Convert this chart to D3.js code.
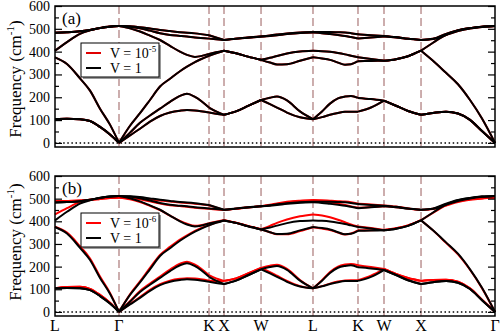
<!DOCTYPE html>
<html lang="en">
<head>
<meta charset="UTF-8">
<title>Phonon dispersion</title>
<script src="https://d3js.org/d3.v7.min.js"></script>
<style type="text/css">
    body { margin: 0; background: #fff; }
</style>
</head>
<body>
<div id="svgDiv"></div>
<script type="text/javascript">

    // high symmetry points along the path (units of 2pi/a)
    var kLabels = ["L", "\u0393", "K", "X", "W", "L", "K", "W", "X", "\u0393"];
    var kTicks = [0, 0.866, 2.084, 2.287, 2.788, 3.491, 4.1, 4.452, 4.953, 5.954];

    // k samples the bands were read at
    var kGrid = [0, 0.162, 0.338, 0.474, 0.609, 0.744, 0.866,
        1.015, 1.150, 1.285, 1.421, 1.556, 1.691, 1.786, 1.894, 2.084,
        2.179, 2.287,
        2.449, 2.612, 2.788,
        2.909, 3.004, 3.139, 3.315, 3.491,
        3.613, 3.721, 3.829, 3.924, 4.005, 4.1,
        4.276, 4.452,
        4.614, 4.777, 4.953,
        5.115, 5.291, 5.453, 5.616, 5.778, 5.954];

    // V = 1 (black, both panels)
    var v1TA1 = [105,106,104,96,70,37,0, 33,62,93,118,133,141,144,142,133, 128,123, 138,162,188, 170,155,133,112,104, 113,123,131,136,137,137, 155,185, 163,140,123, 131,137,129,101,52,0];
    var v1TA2 = [105,106,104,96,70,37,0, 45,88,120,150,180,206,215,202,155, 138,123, 138,162,188, 198,203,186,138,104, 138,172,195,203,206,197, 192,185, 163,140,123, 131,137,129,101,52,0];
    var v1LA  = [375,346,283,229,150,80,0, 75,130,188,247,281,314,334,354,382, 393,404, 393,378,364, 352,344,345,360,375, 370,364,352,343,345,358, 359,360, 367,380,404, 360,307,257,188,107,0];
    var v1LO  = [404,442,478,493,504,510,512, 502,488,470,451,425,400,386,377,390, 397,404, 393,378,364, 373,381,392,401,404, 402,399,394,388,382,375, 368,360, 367,380,404, 439,474,493,503,509,512];
    var v1TO2 = [483,485,489,495,503,509,512, 509,502,492,481,473,469,466,462,457, 454,451, 456,461,466, 469,472,477,482,484, 481,477,473,469,464,458, 462,466, 462,456,451, 455,473,490,501,508,512];
    var v1TO1 = [483,485,489,495,503,509,512, 511,507,501,495,490,485,483,480,472, 462,451, 457,462,466, 471,475,480,484,486, 486,486,485,484,481,476, 472,469, 464,457,451, 456,478,494,503,509,512];

    // V = 1e-5 (red, panel a) lies on top of V = 1
    var v5TA1 = v1TA1, v5TA2 = v1TA2, v5LA = v1LA, v5LO = v1LO, v5TO2 = v1TO2, v5TO1 = v1TO1;

    // V = 1e-6 (red, panel b)
    var v6TA1 = [105,110,111,102,75,40,0, 35,66,98,123,138,146,149,147,138, 136,137, 148,170,194, 176,160,137,114,104, 114,125,134,139,140,140, 160,190, 168,150,137, 141,142,133,104,54,0];
    var v6TA2 = [105,110,111,102,75,40,0, 47,92,125,156,187,213,222,209,162, 148,137, 148,170,194, 204,208,190,141,104, 140,176,200,209,212,206, 198,190, 168,150,137, 141,142,133,104,54,0];
    var v6LA  = [376,350,290,236,156,84,0, 78,135,194,252,287,319,338,358,384, 394,405, 394,379,365, 352,343,343,357,374, 368,362,350,342,346,360, 361,362, 369,382,405, 360,305,254,186,105,0];
    var v6LO  = [430,458,485,494,500,503,505, 497,485,468,450,425,402,389,380,392, 398,405, 394,379,365, 380,393,408,422,430, 426,418,407,396,386,377, 370,362, 369,382,405, 437,470,488,497,502,505];
    var v6TO2 = [489,490,492,495,499,503,505, 503,497,488,478,471,467,464,460,455, 452,450, 455,461,466, 471,476,483,489,492, 488,482,477,472,466,460, 463,466, 462,456,450, 454,470,485,495,501,505];
    var v6TO1 = [489,490,492,495,499,503,505, 504,502,497,492,487,483,481,478,471, 461,450, 456,462,467, 473,479,486,491,494, 493,491,489,487,484,478, 474,470, 465,457,450, 455,475,490,498,502,505];

    var yMajor = [0, 100, 200, 300, 400, 500, 600];
    var yMinor = [50, 150, 250, 350, 450, 550];

    var serif = "'Liberation Serif', 'Times New Roman', Times, 'DejaVu Serif', serif";
    var svgWidth = 501, svgHeight = 334;
    var xLeft = 55, xRight = 495;

    var svg = d3.select("#svgDiv")
        .append("svg")
        .attr("width", svgWidth)
        .attr("height", svgHeight)
        .style("font-family", serif);

    var x = d3.scaleLinear()
        .domain([0, kTicks[kTicks.length - 1]])
        .range([xLeft, xRight]);

    // index of every high symmetry point in kGrid, used to cut the path into segments
    var segIdx = kTicks.map(function(k) { return kGrid.indexOf(k); });

    drawPanel(6, 147, 79, [
        {color: "#e00000", bands: [v5TA1, v5TA2, v5LA, v5LO, v5TO2, v5TO1]},
        {color: "#000000", bands: [v1TA1, v1TA2, v1LA, v1LO, v1TO2, v1TO1]}
    ], "-5", "(a)", false);

    drawPanel(176, 316, 242, [
        {color: "#ff0000", bands: [v6TA1, v6TA2, v6LA, v6LO, v6TO2, v6TO1]},
        {color: "#000000", bands: [v1TA1, v1TA2, v1LA, v1LO, v1TO2, v1TO1]}
    ], "-6", "(b)", true);

    svg.selectAll("text").style("font-family", serif);

    function drawPanel(top, bottom, titleY, sets, legendExp, panelLabel, showX) {

        var y = d3.scaleLinear()
            .domain([-18, 600])
            .range([bottom, top]);

        var g = svg.append("g");

        // dashed lines at the inner high symmetry points
        g.selectAll(".vline")
            .data(kTicks.slice(1, kTicks.length - 1))
            .enter().append("line")
            .attr("x1", function(d) { return x(d); })
            .attr("x2", function(d) { return x(d); })
            .attr("y1", top)
            .attr("y2", bottom)
            .attr("stroke", "#c09a9a")
            .attr("stroke-width", 1.6)
            .attr("stroke-dasharray", "8,4");

        // dotted zero line
        g.append("line")
            .attr("x1", xLeft).attr("x2", xRight)
            .attr("y1", y(0)).attr("y2", y(0))
            .attr("stroke", "#000")
            .attr("stroke-width", 1.5)
            .attr("stroke-dasharray", "1.5,2.6");

        var line = function(band) {
            return d3.line()
                .x(function(i) { return x(kGrid[i]); })
                .y(function(i) { return y(band[i]); })
                .curve(d3.curveMonotoneX);
        };

        sets.forEach(function(set) {
            set.bands.forEach(function(band) {
                for (var s = 0; s < segIdx.length - 1; s++) {
                    var idx = d3.range(segIdx[s], segIdx[s + 1] + 1);
                    g.append("path")
                        .attr("d", line(band)(idx))
                        .attr("fill", "none")
                        .attr("stroke", set.color)
                        .attr("stroke-width", 2)
                        .attr("stroke-linejoin", "round");
                }
            });
        });

        // frame
        g.append("rect")
            .attr("x", xLeft).attr("y", top)
            .attr("width", xRight - xLeft).attr("height", bottom - top)
            .attr("fill", "none")
            .attr("stroke", "#000")
            .attr("stroke-width", 1.5);

        // y ticks, pointing inward on both sides
        var left = g.append("g").attr("transform", "translate(" + xLeft + ",0)")
            .call(d3.axisLeft(y).tickValues(yMajor).tickSizeInner(-7).tickSizeOuter(0).tickPadding(5));
        left.attr("font-family", null).attr("font-size", null);
        left.selectAll("text").attr("font-size", 14).attr("fill", "#000");
        g.append("g").attr("transform", "translate(" + xLeft + ",0)")
            .call(d3.axisLeft(y).tickValues(yMinor).tickSizeInner(-4).tickSizeOuter(0).tickFormat(""));
        g.append("g").attr("transform", "translate(" + xRight + ",0)")
            .call(d3.axisRight(y).tickValues(yMajor).tickSizeInner(-7).tickSizeOuter(0).tickFormat(""));
        g.append("g").attr("transform", "translate(" + xRight + ",0)")
            .call(d3.axisRight(y).tickValues(yMinor).tickSizeInner(-4).tickSizeOuter(0).tickFormat(""));
        g.selectAll(".domain").remove();
        g.selectAll(".tick line").attr("stroke", "#000").attr("stroke-width", 1.2);

        // axis title
        var title = g.append("text")
            .attr("transform", "translate(21," + titleY + ") rotate(-90)")
            .attr("text-anchor", "middle")
            .attr("font-size", 17)
            .text("Frequency (cm");
        title.append("tspan").attr("dy", -7).attr("font-size", 11).text("-1");
        title.append("tspan").attr("dy", 7).text(")");

        // panel label
        g.append("text")
            .attr("x", 62).attr("y", top + 18)
            .attr("font-size", 17)
            .text(panelLabel);

        // legend
        var lg = g.append("g").attr("transform", "translate(81," + (top + 37) + ")");
        lg.append("rect")
            .attr("x", 2).attr("y", 2).attr("width", 78).attr("height", 34)
            .attr("fill", "#999");
        lg.append("rect")
            .attr("x", 0).attr("y", 0).attr("width", 78).attr("height", 34)
            .attr("fill", "#fff").attr("stroke", "#000").attr("stroke-width", 1);
        var entries = [
            {color: sets[0].color, text: "V = 10", exp: legendExp},
            {color: "#000", text: "V = 1", exp: null}
        ];
        entries.forEach(function(e, i) {
            var ly = 10 + i * 15;
            lg.append("line")
                .attr("x1", 5).attr("x2", 20)
                .attr("y1", ly).attr("y2", ly)
                .attr("stroke", e.color).attr("stroke-width", 2);
            var t = lg.append("text")
                .attr("x", 29).attr("y", ly + 4.5)
                .attr("font-size", 14)
                .text(e.text);
            if (e.exp)
                t.append("tspan").attr("dy", -6).attr("font-size", 9).text(e.exp);
        });

        // k labels under the bottom panel
        if (showX) {
            g.selectAll(".klab")
                .data(kTicks)
                .enter().append("text")
                .attr("x", function(d) { return x(d); })
                .attr("y", bottom + 15)
                .attr("text-anchor", "middle")
                .attr("font-size", 16)
                .text(function(d, i) { return kLabels[i]; });
        }
    }

</script>
</body>
</html>
